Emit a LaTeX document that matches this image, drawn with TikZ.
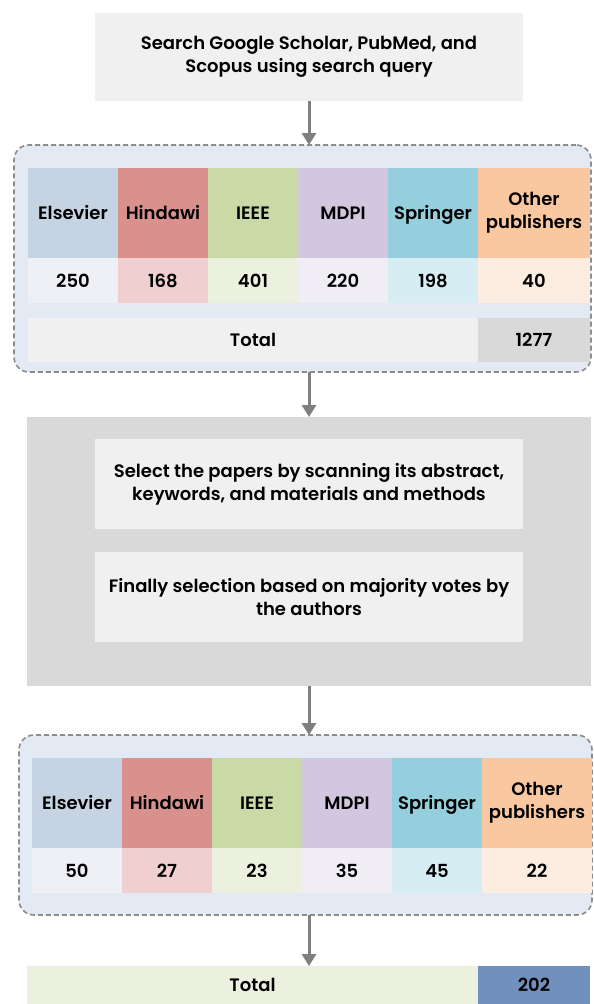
\documentclass[tikz,border=0pt]{standalone}
\usepackage{fontspec}
\setmainfont{Poppins}[BoldFont=Poppins SemiBold]
\usetikzlibrary{arrows.meta}
\definecolor{boxgray}{HTML}{F0F0F0}
\definecolor{biggray}{HTML}{D9D9D9}
\definecolor{dashfill}{HTML}{E4EAF4}
\definecolor{dashline}{HTML}{8C8C8C}
\definecolor{arrowgray}{HTML}{7F7F7F}
\definecolor{hEls}{HTML}{C5D3E3}\definecolor{vEls}{HTML}{EEF0F5}
\definecolor{hHin}{HTML}{D9918E}\definecolor{vHin}{HTML}{EFCFCF}
\definecolor{hIEE}{HTML}{C9DAA7}\definecolor{vIEE}{HTML}{ECF1DF}
\definecolor{hMDP}{HTML}{D1C7DE}\definecolor{vMDP}{HTML}{F0EDF4}
\definecolor{hSpr}{HTML}{95CFDD}\definecolor{vSpr}{HTML}{D6EEF3}
\definecolor{hOth}{HTML}{F9C8A0}\definecolor{vOth}{HTML}{FDEDE1}
\definecolor{totgray}{HTML}{D9D9D9}
\definecolor{totgreen}{HTML}{EBF0DF}
\definecolor{totblue}{HTML}{7090BE}
\newcommand\mycell[8][]{\node[cellbox, #1, fill=#7, minimum width=#5pt, minimum height=#6pt] (#2) at (#3,#4) {#8};}
\begin{document}
\begin{tikzpicture}[x=1pt,y=-1pt,
  every node/.style={font=\fontsize{18}{23}\selectfont\bfseries, text=black},
  cellbox/.style={rectangle, inner sep=0pt, outer sep=0pt, anchor=north west, align=center},
  one/.style={text height=13pt, text depth=0pt},
  dashbox/.style={cellbox, fill=dashfill, draw=dashline, line width=1.6pt, dash pattern=on 5pt off 3pt, rounded corners=15pt},
  arr/.style={draw=arrowgray, line width=3pt, -{Triangle[length=12pt,width=14pt]}}]
\useasboundingbox (0,0) rectangle (594,1004);
% top box
\mycell{top}{95}{13}{428}{88}{boxgray}{Search Google Scholar, PubMed, and\\Scopus using search query}
% first dashed group
\node[dashbox, minimum width=577pt, minimum height=227pt] (d1) at (14,145) {};
\mycell[one]{h1a}{28}{168}{90}{90}{hEls}{Elsevier}
\mycell[one]{h1b}{118}{168}{90}{90}{hHin}{Hindawi}
\mycell[one]{h1c}{208}{168}{90}{90}{hIEE}{IEEE}
\mycell[one]{h1d}{298}{168}{90}{90}{hMDP}{MDPI}
\mycell[one]{h1e}{388}{168}{90}{90}{hSpr}{Springer}
\mycell{h1f}{478}{168}{112}{90}{hOth}{Other\\publishers}
\mycell[one]{v1a}{28}{258}{90}{45}{vEls}{250}
\mycell[one]{v1b}{118}{258}{90}{45}{vHin}{168}
\mycell[one]{v1c}{208}{258}{90}{45}{vIEE}{401}
\mycell[one]{v1d}{298}{258}{90}{45}{vMDP}{220}
\mycell[one]{v1e}{388}{258}{90}{45}{vSpr}{198}
\mycell[one]{v1f}{478}{258}{112}{45}{vOth}{40}
\mycell[one]{t1a}{28}{318}{450}{44}{boxgray}{Total}
\mycell[one]{t1b}{478}{318}{112}{44}{totgray}{1277}
% selection block
\mycell{big}{27}{417}{564}{269}{biggray}{}
\mycell{sel1}{95}{439}{428}{90}{boxgray}{Select the papers by scanning its abstract,\\keywords, and materials and methods}
\mycell{sel2}{95}{552}{428}{90}{boxgray}{Finally selection based on majority votes by\\the authors}
% second dashed group
\node[dashbox, minimum width=573pt, minimum height=180pt] (d2) at (19,735) {};
\mycell[one]{h2a}{32}{758}{90}{90}{hEls}{Elsevier}
\mycell[one]{h2b}{122}{758}{90}{90}{hHin}{Hindawi}
\mycell[one]{h2c}{212}{758}{90}{90}{hIEE}{IEEE}
\mycell[one]{h2d}{302}{758}{90}{90}{hMDP}{MDPI}
\mycell[one]{h2e}{392}{758}{90}{90}{hSpr}{Springer}
\mycell{h2f}{482}{758}{110}{90}{hOth}{Other\\publishers}
\mycell[one]{v2a}{32}{848}{90}{45}{vEls}{50}
\mycell[one]{v2b}{122}{848}{90}{45}{vHin}{27}
\mycell[one]{v2c}{212}{848}{90}{45}{vIEE}{23}
\mycell[one]{v2d}{302}{848}{90}{45}{vMDP}{35}
\mycell[one]{v2e}{392}{848}{90}{45}{vSpr}{45}
\mycell[one]{v2f}{482}{848}{110}{45}{vOth}{22}
% final total
\mycell[one]{t2a}{27}{966}{451}{38}{totgreen}{Total}
\mycell[one]{t2b}{478}{966}{112}{38}{totblue}{202}
% arrows
\draw[arr] (top.south) -- (top.south |- d1.north);
\draw[arr] (top.south |- d1.south) -- (top.south |- big.north);
\draw[arr] (top.south |- big.south) -- (top.south |- d2.north);
\draw[arr] (top.south |- d2.south) -- (top.south |- t2a.north);
\end{tikzpicture}
\end{document}
